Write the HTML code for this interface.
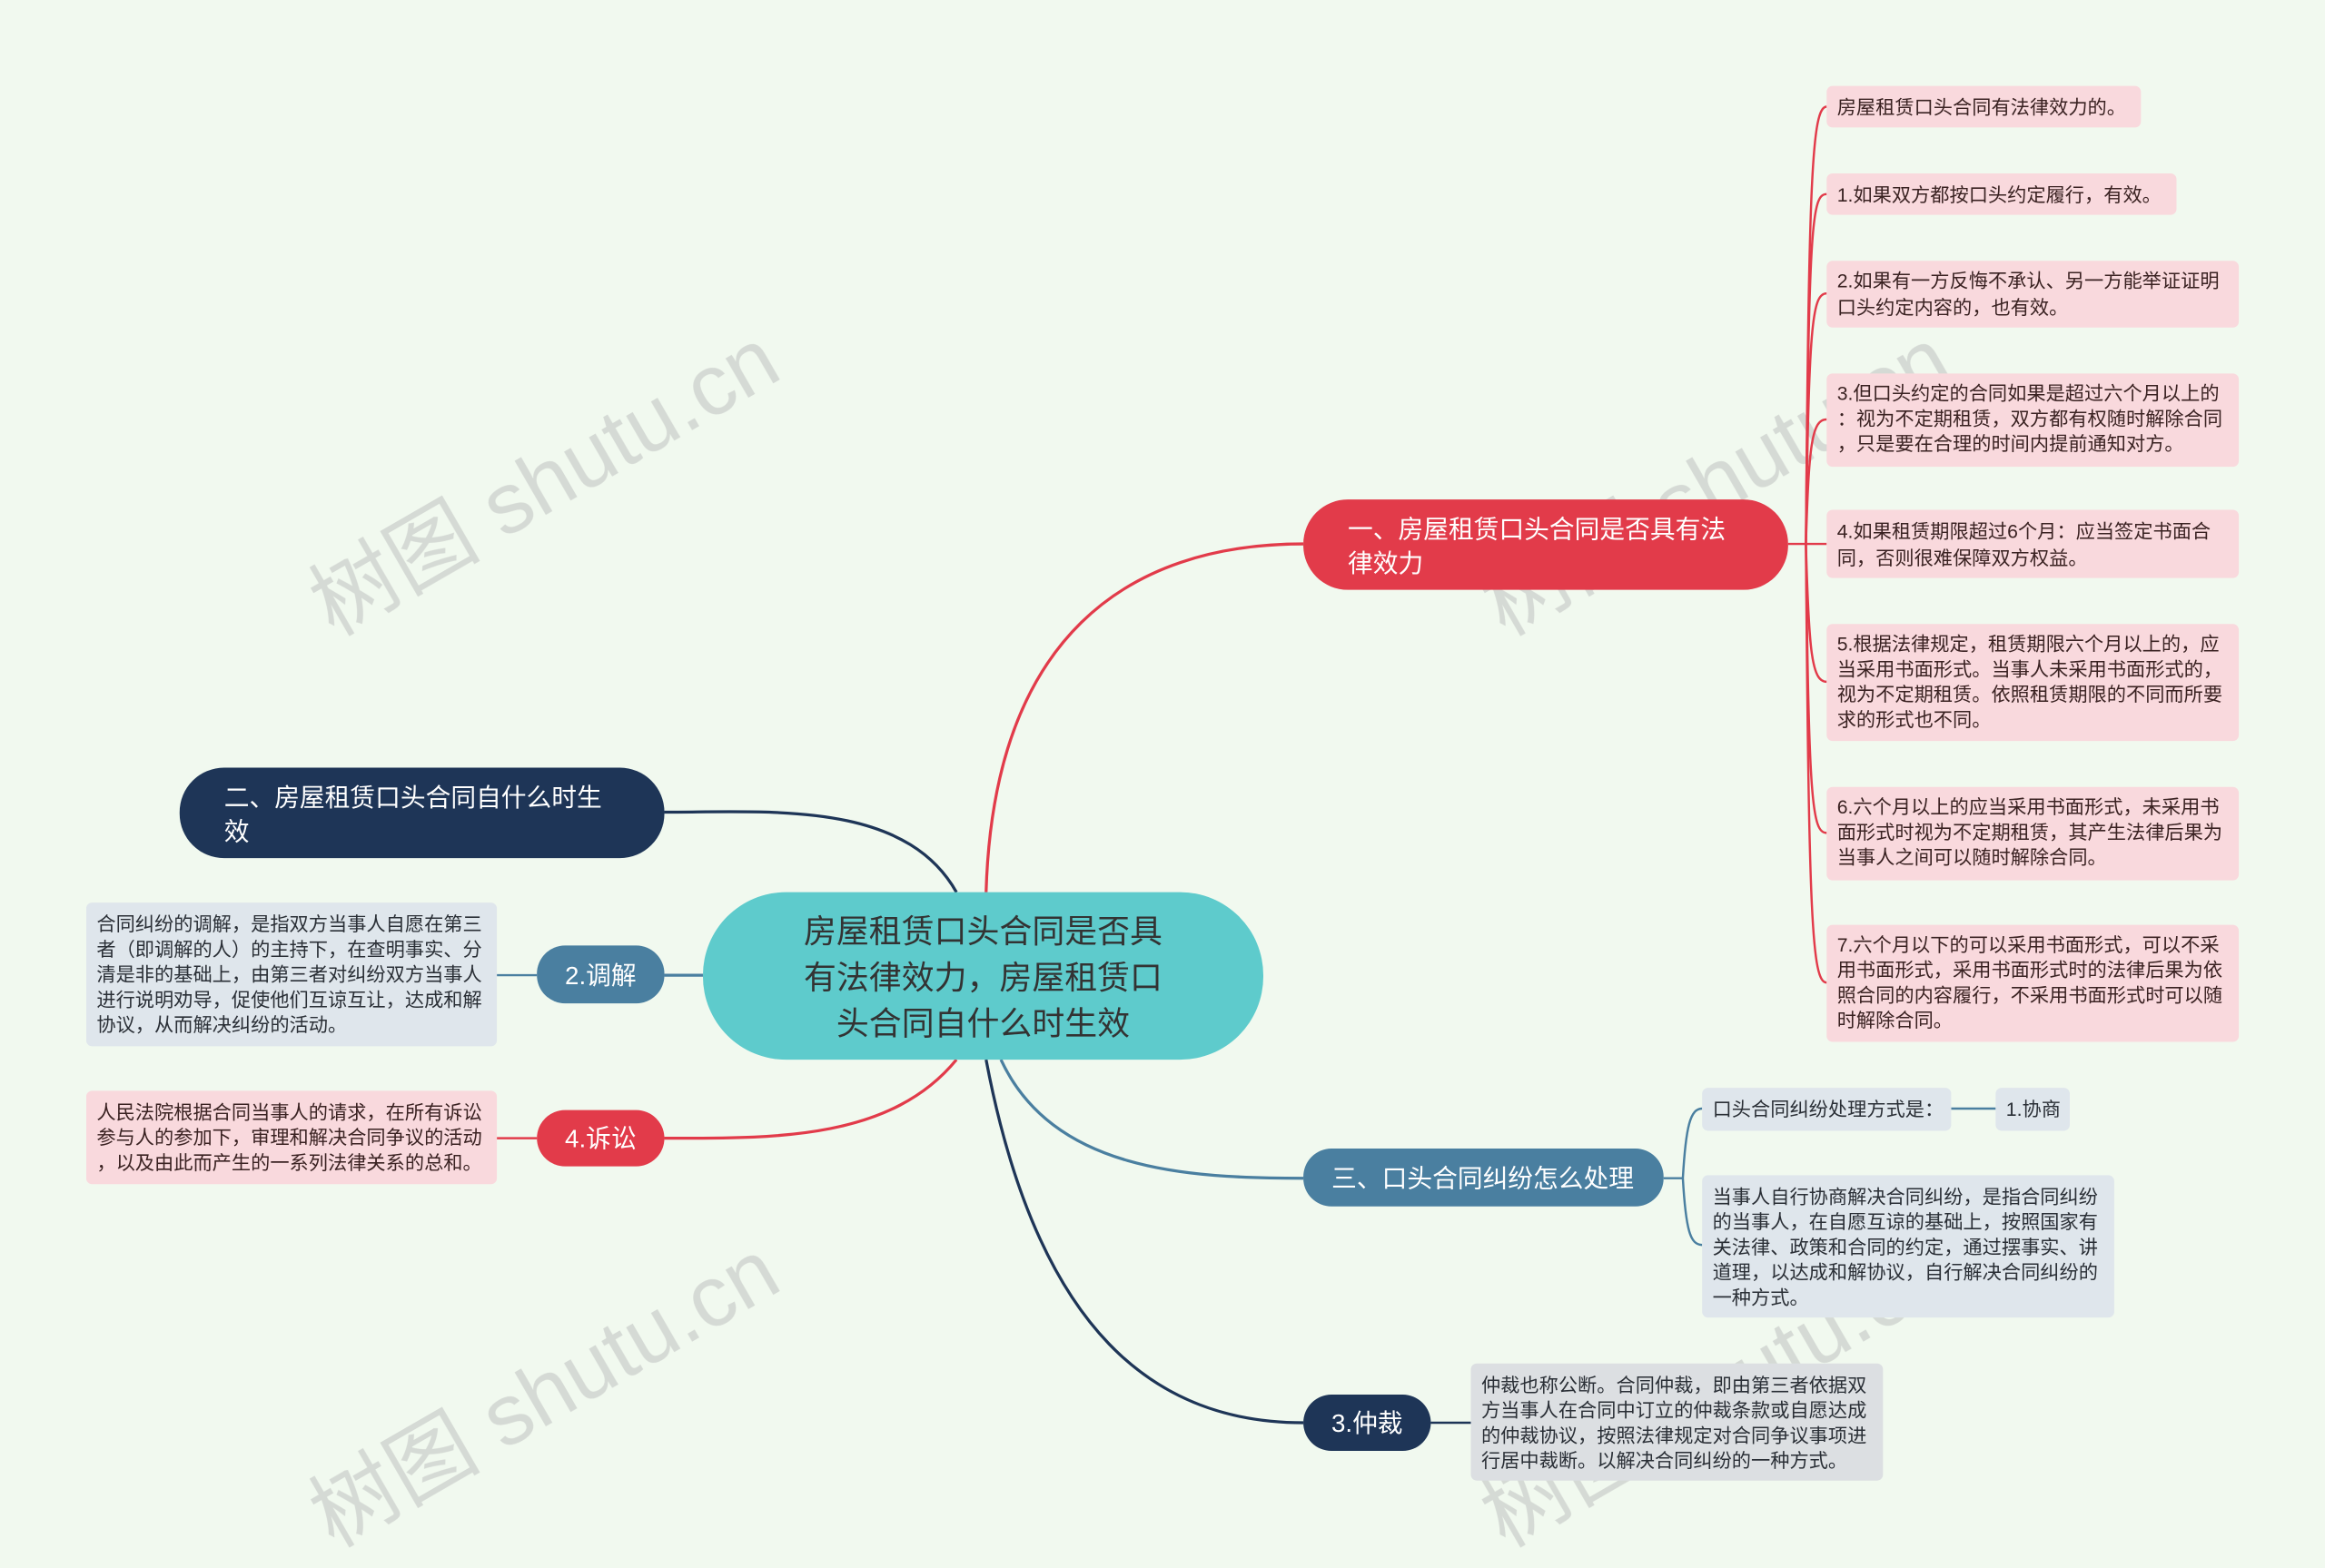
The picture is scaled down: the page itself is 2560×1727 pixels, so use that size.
<!DOCTYPE html>
<html><head><meta charset="utf-8"><style>
html,body{margin:0;padding:0;background:#f1f9ef;}
svg{display:block}
text{font-family:"Liberation Sans","Noto Sans CJK SC",sans-serif;}
</style></head><body>
<svg width="2560" height="1727" viewBox="0 0 1568 1058" xmlns="http://www.w3.org/2000/svg">
<rect width="1568" height="1058" fill="#f1f9ef"/>
<!-- watermarks -->
<g fill="#cfd3cf" font-size="58" opacity="0.8" font-family="Liberation Serif, Noto Serif CJK SC, serif">
<text transform="translate(225,430) rotate(-30)">树图 shutu.cn</text>
<text transform="translate(1015,430) rotate(-30)">树图 shutu.cn</text>
<text transform="translate(225,1045) rotate(-30)">树图 shutu.cn</text>
<text transform="translate(1015,1045) rotate(-30)">树图 shutu.cn</text>
</g>
<!-- connectors -->
<g fill="none" stroke-width="2">
<path d="M665,602 C670,430 760,367 879,367" stroke="#e23b4a"/>
<path d="M645,602 C610,540 520,548 448,548" stroke="#1e3557"/>
<path d="M474,658 L448,658" stroke="#4a7fa0"/>
<path d="M645,715 C600,770 520,768 448,768" stroke="#e23b4a"/>
<path d="M675,715 C710,790 800,795 879,795" stroke="#4a7fa0"/>
<path d="M665,715 C700,900 780,960 879,960" stroke="#1e3557"/>
<!-- left leaves -->
<path d="M362,658 L335,658" stroke="#4a7fa0" stroke-width="1.5"/>
<path d="M362,768 L335,768" stroke="#e23b4a" stroke-width="1.5"/>
<!-- 仲裁 -->
<path d="M965,960 L992,960" stroke="#1e3557" stroke-width="1.5"/>
<!-- 三 children -->
<path d="M1122,795 L1135,795 M1135,795 C1137,760 1140,748 1148,748 M1135,795 C1137,830 1140,840 1148,840 M1316,748 L1346,748" stroke="#4a7fa0" stroke-width="1.5"/>
</g>
<g fill="none" stroke="#e23b4a" stroke-width="1.5">
<path d="M1206,367 L1218,367"/>
<path d="M1218,367 C1220,120 1222,72 1232,72"/>
<path d="M1218,367 C1220,150 1222,131 1232,131"/>
<path d="M1218,367 C1220,220 1222,198 1232,198"/>
<path d="M1218,367 C1220,300 1222,283 1232,283"/>
<path d="M1218,367 L1232,367"/>
<path d="M1218,367 C1220,440 1222,460 1232,460"/>
<path d="M1218,367 C1220,540 1222,562 1232,562"/>
<path d="M1218,367 C1220,620 1222,663 1232,663"/>
</g>
<!-- center -->
<rect x="474" y="602" width="378" height="113" rx="56" fill="#5ecbcc"/>
<g font-size="22" fill="#333" text-anchor="middle">
<text x="663" y="636">房屋租赁口头合同是否具</text>
<text x="663" y="667">有法律效力，房屋租赁口</text>
<text x="663" y="698">头合同自什么时生效</text>
</g>
<!-- main nodes -->
<rect x="879" y="337" width="327" height="61" rx="30" fill="#e23b4a"/>
<g font-size="17" fill="#fff"><text x="909" y="363">一、房屋租赁口头合同是否具有法</text><text x="909" y="386">律效力</text></g>
<rect x="121" y="518" width="327" height="61" rx="30" fill="#1e3557"/>
<g font-size="17" fill="#fff"><text x="151" y="544">二、房屋租赁口头合同自什么时生</text><text x="151" y="567">效</text></g>
<rect x="362" y="638" width="86" height="39" rx="19" fill="#4a7fa0"/>
<text x="405" y="664" font-size="17" fill="#fff" text-anchor="middle">2.调解</text>
<rect x="362" y="749" width="86" height="38" rx="19" fill="#e23b4a"/>
<text x="405" y="774" font-size="17" fill="#fff" text-anchor="middle">4.诉讼</text>
<rect x="879" y="775" width="243" height="39" rx="19" fill="#4a7fa0"/>
<text x="1000" y="801" font-size="17" fill="#fff" text-anchor="middle">三、口头合同纠纷怎么处理</text>
<rect x="879" y="941" width="86" height="38" rx="19" fill="#1e3557"/>
<text x="922" y="966" font-size="17" fill="#fff" text-anchor="middle">3.仲裁</text>
<!-- right leaves -->
<g fill="#f9d9dd">
<rect x="1232" y="58" width="212" height="28" rx="4"/>
<rect x="1232" y="117" width="236" height="28" rx="4"/>
<rect x="1232" y="176" width="278" height="45" rx="4"/>
<rect x="1232" y="252" width="278" height="63" rx="4"/>
<rect x="1232" y="344" width="278" height="46" rx="4"/>
<rect x="1232" y="421" width="278" height="79" rx="4"/>
<rect x="1232" y="531" width="278" height="63" rx="4"/>
<rect x="1232" y="624" width="278" height="79" rx="4"/>
<rect x="58" y="736" width="277" height="63" rx="4"/>
</g>
<g fill="#dfe6ec">
<rect x="58" y="609" width="277" height="97" rx="4"/>
<rect x="1148" y="734" width="168" height="29" rx="4"/>
<rect x="1346" y="734" width="50" height="29" rx="4"/>
<rect x="1148" y="793" width="278" height="96" rx="4"/>
</g>
<rect x="992" y="920" width="278" height="79" rx="4" fill="#dcdfe2"/>
<g font-size="13" fill="#3a2222">
<text x="1239" y="77">房屋租赁口头合同有法律效力的。</text>
<text x="1239" y="136">1.如果双方都按口头约定履行，有效。</text>
<text x="1239" y="194">2.如果有一方反悔不承认、另一方能举证证明</text>
<text x="1239" y="212">口头约定内容的，也有效。</text>
<text x="1239" y="270">3.但口头约定的合同如果是超过六个月以上的</text>
<text x="1239" y="287">：视为不定期租赁，双方都有权随时解除合同</text>
<text x="1239" y="304">，只是要在合理的时间内提前通知对方。</text>
<text x="1239" y="363">4.如果租赁期限超过6个月：应当签定书面合</text>
<text x="1239" y="381">同，否则很难保障双方权益。</text>
<text x="1239" y="439">5.根据法律规定，租赁期限六个月以上的，应</text>
<text x="1239" y="456">当采用书面形式。当事人未采用书面形式的，</text>
<text x="1239" y="473">视为不定期租赁。依照租赁期限的不同而所要</text>
<text x="1239" y="490">求的形式也不同。</text>
<text x="1239" y="549">6.六个月以上的应当采用书面形式，未采用书</text>
<text x="1239" y="566">面形式时视为不定期租赁，其产生法律后果为</text>
<text x="1239" y="583">当事人之间可以随时解除合同。</text>
<text x="1239" y="642">7.六个月以下的可以采用书面形式，可以不采</text>
<text x="1239" y="659">用书面形式，采用书面形式时的法律后果为依</text>
<text x="1239" y="676">照合同的内容履行，不采用书面形式时可以随</text>
<text x="1239" y="693">时解除合同。</text>
</g>
<g font-size="13" fill="#2a2f36">
<text x="65" y="628">合同纠纷的调解，是指双方当事人自愿在第三</text>
<text x="65" y="645">者（即调解的人）的主持下，在查明事实、分</text>
<text x="65" y="662">清是非的基础上，由第三者对纠纷双方当事人</text>
<text x="65" y="679">进行说明劝导，促使他们互谅互让，达成和解</text>
<text x="65" y="696">协议，从而解决纠纷的活动。</text>
<text x="1155" y="753">口头合同纠纷处理方式是：</text>
<text x="1353" y="753">1.协商</text>
<text x="1155" y="812">当事人自行协商解决合同纠纷，是指合同纠纷</text>
<text x="1155" y="829">的当事人，在自愿互谅的基础上，按照国家有</text>
<text x="1155" y="846">关法律、政策和合同的约定，通过摆事实、讲</text>
<text x="1155" y="863">道理，以达成和解协议，自行解决合同纠纷的</text>
<text x="1155" y="880">一种方式。</text>
<text x="999" y="939">仲裁也称公断。合同仲裁，即由第三者依据双</text>
<text x="999" y="956">方当事人在合同中订立的仲裁条款或自愿达成</text>
<text x="999" y="973">的仲裁协议，按照法律规定对合同争议事项进</text>
<text x="999" y="990">行居中裁断。以解决合同纠纷的一种方式。</text>
</g>
<g font-size="13" fill="#3a2222">
<text x="65" y="755">人民法院根据合同当事人的请求，在所有诉讼</text>
<text x="65" y="772">参与人的参加下，审理和解决合同争议的活动</text>
<text x="65" y="789">，以及由此而产生的一系列法律关系的总和。</text>
</g>
</svg>
</body></html>
